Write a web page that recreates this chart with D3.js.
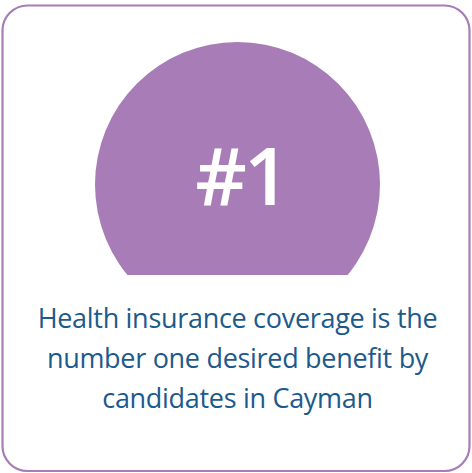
<!DOCTYPE html>
<html>
<head>
<meta charset="utf-8">
<script src="https://cdn.jsdelivr.net/npm/d3@7"></script>
<style>
  html, body { margin: 0; padding: 0; background: #fff; }
  svg { display: block; }
</style>
</head>
<body>
<svg id="card" width="472" height="473"></svg>
<script>
const rankLabel = ["#1"];
const captionLines = [
  "Health insurance coverage is the",
  "number one desired benefit by",
  "candidates in Cayman"
];

const svg = d3.select("#card");
const width = +svg.attr("width");
const purple = "#a87cb7";
const blue = "#1c5a8c";

// card frame
svg.append("rect")
  .attr("x", 2.5).attr("y", 5.5)
  .attr("width", 467).attr("height", 465.5)
  .attr("rx", 25).attr("ry", 25)
  .attr("fill", "#fff")
  .attr("stroke", purple)
  .attr("stroke-width", 2.2);

// circle clipped flat at the bottom
const defs = svg.append("defs");
defs.append("clipPath").attr("id", "cut")
  .append("rect")
  .attr("x", 0).attr("y", 0)
  .attr("width", width).attr("height", 275);

svg.append("circle")
  .attr("cx", 237.5).attr("cy", 184.5).attr("r", 142.5)
  .attr("fill", purple)
  .attr("clip-path", "url(#cut)");

svg.selectAll("text.rank")
  .data(rankLabel)
  .join("text")
  .attr("class", "rank")
  .attr("x", 241).attr("y", 205)
  .attr("text-anchor", "middle")
  .attr("fill", "#fff")
  .style("font-family", "'Open Sans', sans-serif")
  .style("font-weight", 600)
  .style("font-size", "80px")
  .style("letter-spacing", "-3px")
  .text(d => d);

const y = d3.scalePoint()
  .domain(d3.range(captionLines.length))
  .range([328, 408]);

svg.selectAll("text.caption")
  .data(captionLines)
  .join("text")
  .attr("class", "caption")
  .attr("x", 237.5)
  .attr("y", (d, i) => y(i))
  .attr("text-anchor", "middle")
  .attr("fill", blue)
  .style("font-family", "'Open Sans', sans-serif")
  .style("font-weight", 400)
  .style("font-size", "27px")
  .style("letter-spacing", "-0.3px")
  .text(d => d);
</script>
</body>
</html>
